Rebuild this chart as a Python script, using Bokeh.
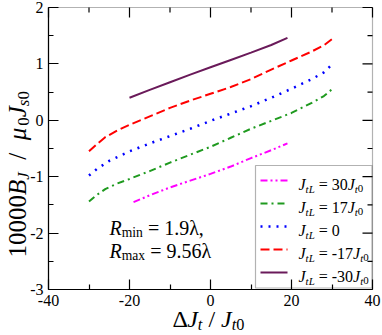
from bokeh.plotting import figure
from bokeh.models import (Range1d, FixedTicker, Label, BoxAnnotation,
                          PrintfTickFormatter)
from bokeh.embed import file_html
from bokeh.resources import INLINE
import math

# ---------------- data ----------------
x_p30 = [-19, -15, -10, -5, 0, 5, 10, 15, 19]
y_p30 = [-1.45, -1.33, -1.19, -1.07, -0.95, -0.82, -0.67, -0.53, -0.41]

x_p17 = [-30, -28, -26, -23, -20, -15, -10, -5, 0, 5, 10, 15, 20, 25, 28, 30]
y_p17 = [-1.44, -1.32, -1.22, -1.12, -1.04, -0.90, -0.75, -0.61, -0.47, -0.31,
         -0.15, -0.01, 0.13, 0.31, 0.43, 0.55]

x_0 = [-30, -28, -25, -20, -15, -10, -5, 0, 5, 10, 15, 20, 25, 28, 30]
y_0 = [-0.98, -0.86, -0.72, -0.55, -0.41, -0.28, -0.15, -0.01, 0.12, 0.25,
       0.40, 0.56, 0.73, 0.85, 0.99]

x_m17 = [-30, -28, -26, -23, -20, -15, -10, -5, 0, 5, 10, 15, 20, 25, 28, 30]
y_m17 = [-0.55, -0.42, -0.30, -0.18, -0.08, 0.07, 0.22, 0.35, 0.47, 0.59,
         0.73, 0.90, 1.06, 1.22, 1.33, 1.44]

x_m30 = [-20, -15, -10, -5, 0, 5, 10, 15, 19]
y_m30 = [0.40, 0.54, 0.675, 0.81, 0.94, 1.07, 1.20, 1.335, 1.46]

x_ticks = [-40, -20, 0, 20, 40]
x_minor = [-30, -10, 10, 30]
y_ticks = [-3, -2, -1, 0, 1, 2]
y_minor = [-2.5, -1.5, -0.5, 0.5, 1.5]

FONT = "Liberation Serif"

# canvas geometry (px from the canvas top-left); the plotting frame fills the
# whole canvas so that every label can be drawn, the axes sit at fixed places
W, H = 382, 335
B_LEFT, B_RIGHT, B_TOP, B_BOT = 48, 372, 7, 289
sx = (B_RIGHT - B_LEFT) / (x_ticks[-1] - x_ticks[0])
sy = (B_BOT - B_TOP) / (y_ticks[-1] - y_ticks[0])

p = figure(width=W, height=H, output_backend="svg", toolbar_location=None,
           x_range=Range1d(x_ticks[0] - B_LEFT / sx, x_ticks[-1] + (W - B_RIGHT) / sx),
           y_range=Range1d(y_ticks[0] - (H - B_BOT) / sy, y_ticks[-1] + B_TOP / sy),
           min_border=0, min_border_left=0, min_border_right=0,
           min_border_top=0, min_border_bottom=0)
p.grid.visible = False
p.outline_line_color = None
p.background_fill_color = "white"
p.border_fill_color = "white"

for ax in list(p.xaxis) + list(p.yaxis):
    ax.axis_line_color = "black"
    ax.axis_line_width = 1.2
    ax.major_tick_line_color = "black"
    ax.minor_tick_line_color = "black"
    ax.major_tick_line_width = 1.2
    ax.minor_tick_line_width = 1.2
    ax.major_tick_in = 10
    ax.major_tick_out = 0
    ax.minor_tick_in = 5
    ax.minor_tick_out = 0
    ax.axis_label = None
    ax.major_label_text_font = FONT
    ax.major_label_text_font_size = "16px"
    ax.major_label_text_color = "black"
    ax.major_label_standoff = 5
    ax.formatter = PrintfTickFormatter(format="%d")
p.xaxis.ticker = FixedTicker(ticks=x_ticks, minor_ticks=x_minor)
p.yaxis.ticker = FixedTicker(ticks=y_ticks, minor_ticks=y_minor)
p.xaxis.fixed_location = y_ticks[0]
p.yaxis.fixed_location = x_ticks[0]
p.xaxis.bounds = (x_ticks[0], x_ticks[-1])
p.yaxis.bounds = (y_ticks[0], y_ticks[-1])

# plot box
p.add_layout(BoxAnnotation(left=x_ticks[0], right=x_ticks[-1], bottom=y_ticks[0],
                           top=y_ticks[-1], fill_alpha=0, line_color="black",
                           line_width=1.2, level="underlay"))

# mirrored inward ticks on the top and right edges
tk = dict(line_color="black", line_width=1.2, length_units="screen")
p.ray(x=x_ticks, y=[y_ticks[-1]] * len(x_ticks), length=10, angle=-math.pi / 2, **tk)
p.ray(x=x_minor, y=[y_ticks[-1]] * len(x_minor), length=5, angle=-math.pi / 2, **tk)
p.ray(x=[x_ticks[-1]] * len(y_ticks), y=y_ticks, length=10, angle=math.pi, **tk)
p.ray(x=[x_ticks[-1]] * len(y_minor), y=y_minor, length=5, angle=math.pi, **tk)

series = [
    (x_p30, y_p30, dict(line_color="#ff00ff", line_width=2, line_dash="7 3 2 3 2 3")),
    (x_p17, y_p17, dict(line_color="#1f9a1f", line_width=2, line_dash="7 4 2 4")),
    (x_0, y_0, dict(line_color="#0000ff", line_width=2.5, line_dash="2 6")),
    (x_m17, y_m17, dict(line_color="#ff0000", line_width=2, line_dash="9 4")),
    (x_m30, y_m30, dict(line_color="#6a1a5a", line_width=2)),
]
for xs, ys, st in series:
    p.line(xs, ys, **st)


# ---------------- legend (drawn by hand for sub-scripted labels) ----------------
def dx(px):
    return x_ticks[0] + (px - B_LEFT) / sx


def dy(py):
    return y_ticks[-1] - (py - B_TOP) / sy


p.add_layout(BoxAnnotation(left=dx(255), right=dx(371.5), top=dy(165), bottom=dy(287.5),
                           fill_color="white", fill_alpha=1.0,
                           line_color="black", line_width=1.2, level="underlay"))
for k, (xs, ys, st) in enumerate(series):
    yc = dy(180 + 23 * k)
    p.line([dx(260), dx(287)], [yc, yc], **st)

# ---------------- rich text helpers ----------------
REG = {'0': 500, '1': 500, '2': 500, '3': 500, '4': 500, '5': 500, '6': 500,
       '7': 500, '8': 500, '9': 500, ' ': 250, '=': 564, '-': 333, '.': 250,
       ',': 250, '/': 278, 'm': 778, 'i': 278, 'n': 500, 'a': 444, 'x': 500,
       'λ': 549, 'Δ': 612, 'μ': 576}
ITA = {'J': 444, 'B': 611, 'R': 611, 't': 278, 'L': 556, 's': 389, 'μ': 576}


def tw(txt, ital):
    tab = ITA if ital else REG
    return sum(tab.get(c, REG.get(c, 500)) for c in txt) / 1000.0


def rich(px, py, segs, size, angle=0.0, sub_scale=0.68, sub_drop=0.25):
    pos = 0.0
    for txt, ital, sub in segs:
        fs = size * sub_scale if sub else size
        drop = size * sub_drop if sub else 0.0
        core = txt.lstrip(" ")
        pos += tw(txt[:len(txt) - len(core)], ital) * fs
        body = core.rstrip(" ")
        if angle == 0.0:
            xo, yo = pos, -drop
        else:
            xo, yo = drop, pos
        p.add_layout(Label(x=px, y=py, x_units="canvas", y_units="canvas",
                           text=body, x_offset=xo, y_offset=yo,
                           angle=angle, text_font=FONT,
                           text_font_size="%.1fpx" % fs,
                           text_font_style="italic" if ital else "normal",
                           text_color="black", text_baseline="alphabetic",
                           text_align="left", level="overlay"))
        pos += tw(core, ital) * fs


I, N = True, False
leg_rows = [" = 30", " = 17", " = 0", " = -17", " = -30"]
for k, t in enumerate(leg_rows):
    segs = [("J", I, N), ("tL", I, True), (t, N, N)]
    if t != " = 0":
        segs += [("J", I, N), ("t", I, True), ("0", N, True)]
    rich(298, 184 + 23 * k, segs, 16)

rich(109, 227, [("R", I, N), ("min", N, True), (" = 1.9λ,", N, N)], 20)
rich(109, 250, [("R", I, N), ("max", N, True), (" = 9.56λ", N, N)], 20)

rich(172, 318, [("Δ", N, N), ("J", I, N), ("t", I, True), (" / ", N, N),
                ("J", I, N), ("t", I, True), ("0", N, True)], 24)
rich(17, 257, [("10000", N, N), ("B", I, N), ("J", I, True), ("  /  ", N, N),
               ("μ", I, N), ("0", N, True), ("J", I, N), ("s", I, True),
               ("0", N, True)], 25, angle=math.pi / 2)

open("out.html", "w").write(file_html(p, INLINE))
